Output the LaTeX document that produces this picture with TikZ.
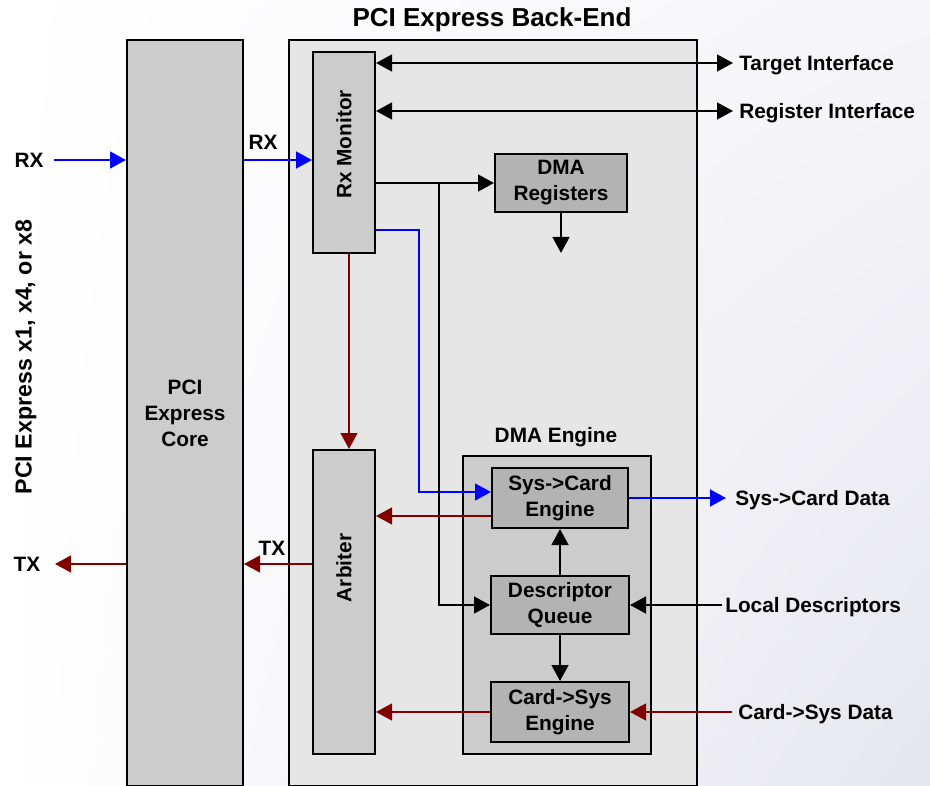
\documentclass[tikz,border=0pt]{standalone}
\usepackage{fontspec}
\setmainfont{Liberation Sans}
\usepackage{graphicx}
\usetikzlibrary{arrows.meta,shadings}

\definecolor{corefill}{HTML}{CCCCCC}
\definecolor{backfill}{HTML}{E6E6E6}
\definecolor{unitfill}{HTML}{B3B3B3}
\definecolor{rxline}{HTML}{0000FF}
\definecolor{txline}{HTML}{800000}
\definecolor{paperright}{HTML}{F6F6FA}
\definecolor{paperlow}{HTML}{E6E6EE}

\tikzset{
  every node/.style={font=\fontsize{14.8}{18.5}\selectfont\bfseries},
  blk/.style={draw, line width=0.05cm, inner sep=0cm, align=center},
  lbl/.style={inner sep=0.15cm, text height=0.37cm, text depth=0cm},
  sig/.style={line width=0.05cm, -{Triangle[length=0.4cm,width=0.42cm]}},
  bisig/.style={line width=0.05cm, {Triangle[length=0.4cm,width=0.42cm]}-{Triangle[length=0.4cm,width=0.42cm]}},
}

\begin{document}
\begin{tikzpicture}
        \useasboundingbox (0,0) rectangle (23.250000,19.625000);
        \clip (0,0) rectangle (23.250000,19.625000);

        % Paper
        \shade [upper left=white, lower left=white, upper right=paperright, lower right=paperlow] (0,0) rectangle (23.250000,19.625000);

        % Core and back-end blocks
        \node [blk, fill=corefill, minimum width=2.900000cm, minimum height=18.650000cm] (core) at (4.625000,9.300000) {PCI\\Express\\Core};
        \node [blk, fill=backfill, minimum width=10.200000cm, minimum height=18.650000cm] (backend) at (12.325000,9.300000) {};
        \node [font=\fontsize{18.5}{22}\selectfont\bfseries] (title) at (12.300000,19.125000) {PCI Express Back-End};
        \node [rotate=90, font=\fontsize{16.5}{20}\selectfont\bfseries] (linklbl) at (0.650000,10.700000) {PCI Express x1, x4, or x8};

        % Rx monitor and arbiter
        \node [blk, fill=corefill, minimum width=1.550000cm, minimum height=5.025000cm] (rxmon) at (8.600000,15.812500) {};
        \node [rotate=90] (rxmonlbl) at ([yshift=0.200000cm]rxmon.center) {Rx Monitor};
        \node [blk, fill=corefill, minimum width=1.550000cm, minimum height=7.600000cm] (arb) at (8.600000,4.575000) {};
        \node [rotate=90] (arblbl) at ([yshift=0.850000cm]arb.center) {Arbiter};

        % DMA registers
        \node [blk, fill=unitfill, minimum width=3.300000cm, minimum height=1.450000cm] (dmareg) at (14.025000,15.050000) {DMA\\Registers};

        % DMA engine
        \node [blk, fill=corefill, minimum width=4.700000cm, minimum height=7.450000cm] (dmaeng) at (13.925000,4.500000) {};
        \node (dmaenglbl) at (13.900000,8.700000) {DMA Engine};
        \node [blk, fill=unitfill, minimum width=3.400000cm, minimum height=1.500000cm] (s2c) at (14.000000,7.175000) {Sys->Card\\Engine};
        \node [blk, fill=unitfill, minimum width=3.450000cm, minimum height=1.450000cm] (desc) at (14.000000,4.500000) {Descriptor\\Queue};
        \node [blk, fill=unitfill, minimum width=3.450000cm, minimum height=1.500000cm] (c2s) at (14.000000,1.825000) {Card->Sys\\Engine};

        % Outside labels
        \node [lbl] (rxlbl) at (0.725000,15.625000) {RX};
        \node [lbl] (rxinlbl) at (6.575000,16.062500) {RX};
        \node [lbl] (txlbl) at (0.675000,5.525000) {TX};
        \node [lbl] (txinlbl) at (6.800000,5.912500) {TX};
        \node [lbl, anchor=west] (tgt) at (18.325000,18.050000) {Target Interface};
        \node [lbl, anchor=west] (reg) at (18.325000,16.850000) {Register Interface};
        \node [lbl, anchor=west, inner xsep=0.225cm] (s2cdata) at (18.150000,7.175000) {Sys->Card Data};
        \node [lbl, anchor=west, inner xsep=0.075cm] (locdesc) at (18.050000,4.500000) {Local Descriptors};
        \node [lbl, anchor=west] (c2sdata) at (18.300000,1.825000) {Card->Sys Data};

        % Free ends and bends
        \coordinate (rxin) at (1.350000,15.625000);
        \coordinate (txout) at (1.375000,5.525000);
        \coordinate (txlvl) at (0,5.525000);
        \coordinate (tap) at (10.975000,15.050000);
        \coordinate (bend) at (10.475000,13.875000);
        \coordinate (regout) at (14.025000,13.300000);
        \coordinate (s2cin) at ([yshift=0.150000cm]s2c.west);
        \coordinate (s2cout) at ([yshift=-0.450000cm]s2c.west);
        \coordinate (rxdn) at ([xshift=0.125000cm]rxmon.south);

        % Receive path
        \draw [sig, rxline] (rxin) -- (core.west |- rxin);
        \draw [sig, rxline] (core.east |- rxin) -- (rxmon.west |- rxin);
        \draw [sig, rxline] (rxmon.east |- bend) -- (bend) |- (s2cin);
        \draw [sig, rxline] (s2c.east) -- (s2cdata.west);

        % Interfaces
        \draw [bisig] (rxmon.east |- tgt) -- (tgt.west);
        \draw [bisig] (rxmon.east |- reg) -- (reg.west);

        % Register and descriptor path
        \draw [sig] (rxmon.east |- dmareg.west) -- (dmareg.west);
        \draw [sig] (tap) |- (desc.west);
        \draw [sig] (dmareg.south) -- (regout);
        \draw [sig] (desc.north) -- (s2c.south);
        \draw [sig] (desc.south) -- (c2s.north);
        \draw [sig] (locdesc.west) -- (desc.east);

        % Transmit path
        \draw [sig, txline] (rxdn) -- (rxdn |- arb.north);
        \draw [sig, txline] (s2cout) -- (s2cout -| arb.east);
        \draw [sig, txline] (c2s.west) -- (c2s.west -| arb.east);
        \draw [sig, txline] (c2sdata.west) -- (c2s.east);
        \draw [sig, txline] (arb.west |- txlvl) -- (core.east |- txlvl);
        \draw [sig, txline] (core.west |- txout) -- (txout);
    \end{tikzpicture}
\end{document}
